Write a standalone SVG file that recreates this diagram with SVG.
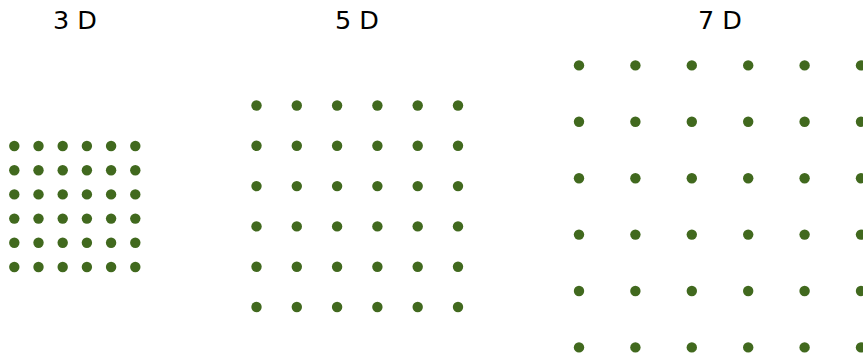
<svg xmlns="http://www.w3.org/2000/svg" width="863" height="359" viewBox="0 0 863 359">
<style>
text{font-family:"DejaVu Sans",sans-serif;font-size:25.5px;fill:#000;text-anchor:middle}
circle{fill:#41691e}
</style>
<rect width="863" height="359" fill="#fff"/>
<defs>
<g id="r3"><circle cx="0" cy="0" r="5.2"/><circle cx="24.2" cy="0" r="5.2"/><circle cx="48.4" cy="0" r="5.2"/><circle cx="72.6" cy="0" r="5.2"/><circle cx="96.8" cy="0" r="5.2"/><circle cx="121" cy="0" r="5.2"/></g>
<g id="r5"><circle cx="0" cy="0" r="5.2"/><circle cx="40.3" cy="0" r="5.2"/><circle cx="80.6" cy="0" r="5.2"/><circle cx="120.9" cy="0" r="5.2"/><circle cx="161.2" cy="0" r="5.2"/><circle cx="201.5" cy="0" r="5.2"/></g>
<g id="r7"><circle cx="0" cy="0" r="5.2"/><circle cx="56.4" cy="0" r="5.2"/><circle cx="112.8" cy="0" r="5.2"/><circle cx="169.2" cy="0" r="5.2"/><circle cx="225.6" cy="0" r="5.2"/><circle cx="282" cy="0" r="5.2"/></g>
</defs>
<g id="grid3d">
<text x="75" y="29">3 D</text>
<use href="#r3" x="14.3" y="146"/>
<use href="#r3" x="14.3" y="170.2"/>
<use href="#r3" x="14.3" y="194.4"/>
<use href="#r3" x="14.3" y="218.6"/>
<use href="#r3" x="14.3" y="242.8"/>
<use href="#r3" x="14.3" y="267"/>
</g>
<g id="grid5d">
<text x="357" y="29">5 D</text>
<use href="#r5" x="256.5" y="105.5"/>
<use href="#r5" x="256.5" y="145.8"/>
<use href="#r5" x="256.5" y="186.1"/>
<use href="#r5" x="256.5" y="226.4"/>
<use href="#r5" x="256.5" y="266.7"/>
<use href="#r5" x="256.5" y="307"/>
</g>
<g id="grid7d">
<text x="720" y="29">7 D</text>
<use href="#r7" x="579" y="65.4"/>
<use href="#r7" x="579" y="121.8"/>
<use href="#r7" x="579" y="178.2"/>
<use href="#r7" x="579" y="234.6"/>
<use href="#r7" x="579" y="291"/>
<use href="#r7" x="579" y="347.4"/>
</g>
</svg>
